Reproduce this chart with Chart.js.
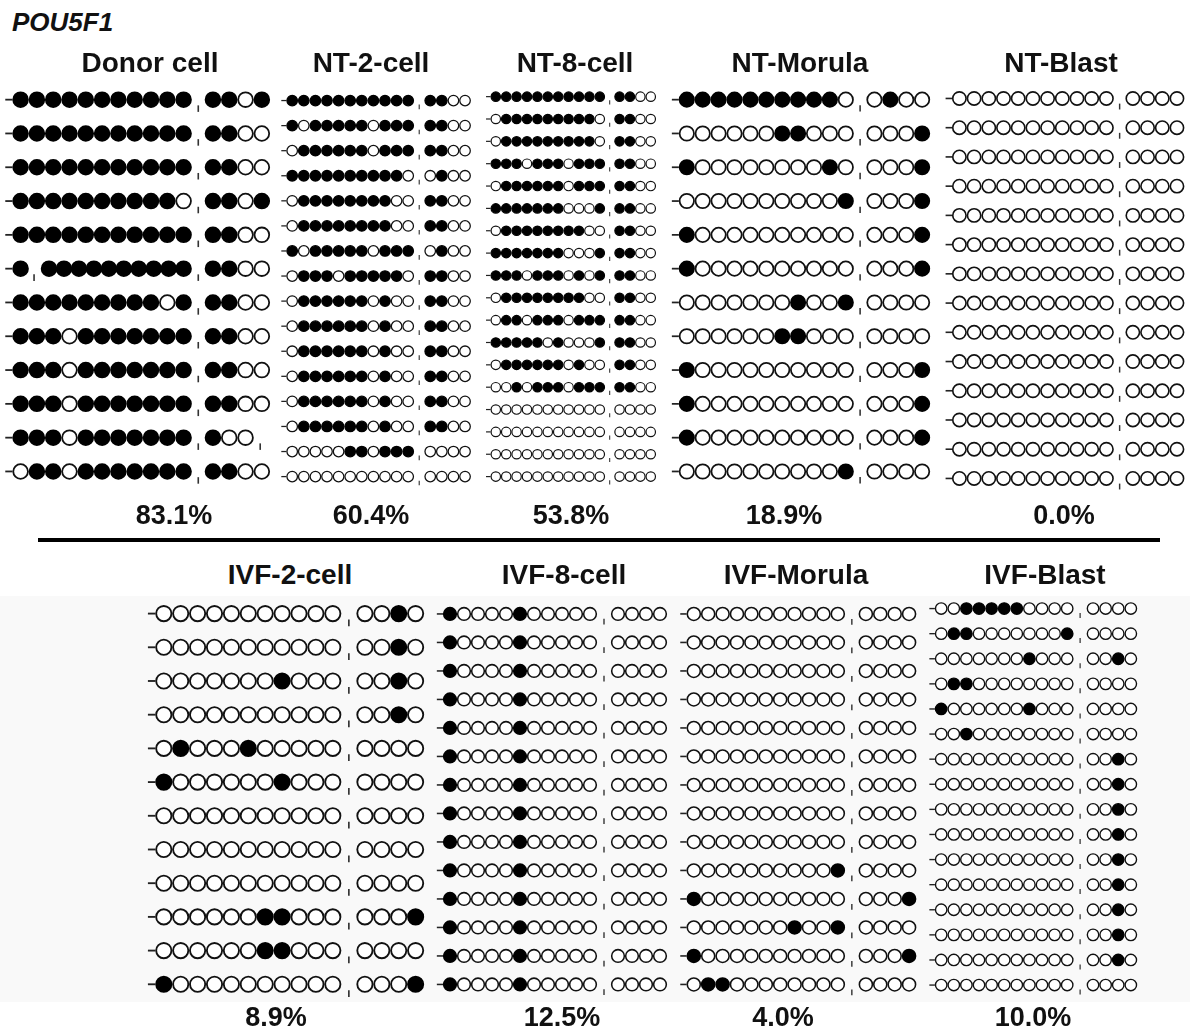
<!DOCTYPE html>
<html>
<head>
<meta charset="utf-8">
<title>POU5F1 promoter methylation</title>
<script src="https://cdn.jsdelivr.net/npm/chart.js@4.4.1/dist/chart.umd.min.js"></script>
<style>
  html, body { margin: 0; padding: 0; background: #ffffff; }
  #page { position: relative; width: 1190px; height: 1030px; overflow: hidden;
          font-family: "Liberation Sans", Arial, Helvetica, sans-serif; }
  .lbl { position: absolute; font-weight: bold; line-height: 1; color: #111;
         white-space: nowrap; transform: translate(-50%, -50%); }
  .ttl { font-size: 28px; }
  .pct { font-size: 27px; }
  #gene { position: absolute; left: 12px; top: 9px; font-weight: bold; font-style: italic;
          font-size: 26px; line-height: 1; color: #111; }
  #divider { position: absolute; left: 38px; top: 538px; width: 1122px; height: 4px; background: #000; }
  #lowerBand { position: absolute; left: 0; top: 596px; width: 1190px; height: 406px; background: #f9f9f9; }
  canvas { position: absolute; }
</style>
</head>
<body>
<div id="page">
  <div id="lowerBand"></div>
  <div id="gene">POU5F1</div>
  <div id="divider"></div>
</div>
<script>
// One string per sequenced clone.
// '1' = methylated CpG, '0' = unmethylated CpG,
// '|' = break between the 11-site and 4-site clusters, ',' = additional break mark.
const donorCell = [
  "11111111111|1101",
  "11111111111|1100",
  "11111111111|1100",
  "11111111110|1101",
  "11111111111|1100",
  "1,1111111111|1100",
  "11111111101|1100",
  "11101111111|1100",
  "11101111111|1100",
  "11101111111|1100",
  "11101111111|100,",
  "01101111111|1100"
];
const nt2Cell = [
  "11111111111|1100",
  "10111110111|1100",
  "01111110111|1100",
  "11111111110|0100",
  "01111111100|1100",
  "01111111100|1100",
  "10111110111|0100",
  "01110111110|1100",
  "01111110100|1100",
  "01111110100|1100",
  "01111110100|1100",
  "01111110100|1100",
  "01111110100|1100",
  "01111110100|1100",
  "00000110111|0000",
  "00000000000|0000"
];
const nt8Cell = [
  "11111111111|1100",
  "01111111110|1100",
  "01111111110|1100",
  "11101110111|1100",
  "01111110111|1100",
  "11111110001|1100",
  "01111111100|1100",
  "11111110001|1100",
  "11101110101|1100",
  "01111111100|1100",
  "01101110111|1100",
  "11111010001|1100",
  "01111110100|1100",
  "00101110111|1100",
  "00000000000|0000",
  "00000000000|0000",
  "00000000000|0000",
  "00000000000|0000"
];
const ntMorula = [
  "11111111110|0100",
  "00000011000|0001",
  "10000000010|0001",
  "00000000001|0001",
  "10000000000|0001",
  "10000000000|0001",
  "00000001001|0000",
  "00000011000|0000",
  "10000000000|0001",
  "10000000000|0001",
  "10000000000|0001",
  "00000000001|0000"
];
const ntBlast = [
  "00000000000|0000", "00000000000|0000", "00000000000|0000", "00000000000|0000",
  "00000000000|0000", "00000000000|0000", "00000000000|0000", "00000000000|0000",
  "00000000000|0000", "00000000000|0000", "00000000000|0000", "00000000000|0000",
  "00000000000|0000", "00000000000|0000"
];
const ivf2Cell = [
  "00000000000|0010",
  "00000000000|0010",
  "00000001000|0010",
  "00000000000|0010",
  "01000100000|0000",
  "10000001000|0000",
  "00000000000|0000",
  "00000000000|0000",
  "00000000000|0000",
  "00000011000|0001",
  "00000011000|0000",
  "10000000000|0001"
];
const ivf8Cell = [
  "10000100000|0000", "10000100000|0000", "10000100000|0000", "10000100000|0000",
  "10000100000|0000", "10000100000|0000", "10000100000|0000", "10000100000|0000",
  "10000100000|0000", "10000100000|0000", "10000100000|0000", "10000100000|0000",
  "10000100000|0000", "10000100000|0000"
];
const ivfMorula = [
  "00000000000|0000", "00000000000|0000", "00000000000|0000",
  "00000000000|0000", "00000000000|0000", "00000000000|0000",
  "00000000000|0000", "00000000000|0000", "00000000000|0000",
  "00000000001|0000",
  "10000000000|0001",
  "00000001001|0000",
  "10000000000|0001",
  "01100000000|0000"
];
const ivfBlast = [
  "00111110000|0000",
  "01100000001|0000",
  "00000001000|0010",
  "01100000000|0000",
  "10000001000|0000",
  "00100000000|0000",
  "00000000000|0010",
  "00000000000|0010",
  "00000000000|0010",
  "00000000000|0010",
  "00000000000|0010",
  "00000000000|0010",
  "00000000000|0010",
  "00000000000|0010",
  "00000000000|0010",
  "00000000000|0000"
];

const panelTitles = ["Donor cell", "NT-2-cell", "NT-8-cell", "NT-Morula", "NT-Blast",
                     "IVF-2-cell", "IVF-8-cell", "IVF-Morula", "IVF-Blast"];
const methylationLabels = ["83.1%", "60.4%", "53.8%", "18.9%", "0.0%",
                           "8.9%", "12.5%", "4.0%", "10.0%"];
const panelRows = [donorCell, nt2Cell, nt8Cell, ntMorula, ntBlast,
                   ivf2Cell, ivf8Cell, ivfMorula, ivfBlast];

// Placement of each panel: first CpG centre (c0), CpG pitch (s), first row centre (y0),
// row pitch (step), width of the cluster break in CpG units (gap), title / percentage anchors.
const layout = [
  { c0: 21,    s: 16.3, y0: 100, step: 33.8,  gap: 1.8,  tx: 150,  ty: 63,  px: 174,  py: 515 },
  { c0: 292,   s: 11.6, y0: 100, step: 25.07, gap: 1.9,  tx: 371,  ty: 63,  px: 371,  py: 515 },
  { c0: 496,   s: 10.4, y0: 97,  step: 22.35, gap: 1.9,  tx: 575,  ty: 63,  px: 571,  py: 515 },
  { c0: 687,   s: 15.9, y0: 100, step: 33.8,  gap: 1.8,  tx: 800,  ty: 63,  px: 784,  py: 515 },
  { c0: 959,   s: 14.7, y0: 98,  step: 29.23, gap: 1.8,  tx: 1061, ty: 63,  px: 1064, py: 515 },
  { c0: 163.5, s: 16.9, y0: 614, step: 33.7,  gap: 1.9,  tx: 290,  ty: 575, px: 276,  py: 1017 },
  { c0: 450,   s: 14.0, y0: 614, step: 28.5,  gap: 2.0,  tx: 564,  ty: 575, px: 562,  py: 1017 },
  { c0: 694,   s: 14.4, y0: 614, step: 28.5,  gap: 1.95, tx: 796,  ty: 575, px: 783,  py: 1017 },
  { c0: 941,   s: 12.6, y0: 609, step: 25.1,  gap: 2.05, tx: 1045, ty: 575, px: 1033, py: 1017 }
];

const page = document.getElementById('page');

function addLabel(text, x, y, cls) {
  const d = document.createElement('div');
  d.className = 'lbl ' + cls;
  d.textContent = text;
  d.style.left = x + 'px';
  d.style.top = y + 'px';
  page.appendChild(d);
}

// Lay one cluster of sites out along the x axis (CpG units).
function placeCluster(str, start) {
  const items = [];
  let cur = start, last = null;
  for (const ch of str) {
    if (ch === ',') {
      items.push({ kind: 'break', u: (last === null ? cur - 1 : last) + 0.9 });
      cur += 0.9;
    } else {
      items.push({ kind: ch === '1' ? 'm' : 'u', u: cur });
      last = cur;
      cur += 1;
    }
  }
  return { items, last };
}

function buildPoints(rows, gap, tickOff) {
  const methylated = [], unmethylated = [], starts = [], breaks = [];
  rows.forEach((row, ri) => {
    const [a, b = ''] = row.split('|');
    const A = placeCluster(a, 0);
    // squeeze the first cluster back to its usual span when it carries an extra break
    const k = A.last > 10 ? 10 / A.last : 1;
    A.items.forEach(it => { it.u *= k; });
    const B = placeCluster(b, 10 + gap);
    const all = A.items.concat([{ kind: 'break', u: 10 + gap / 2 }], B.items);
    starts.push({ x: -0.72, y: ri });
    all.forEach(it => {
      if (it.kind === 'm') methylated.push({ x: it.u, y: ri });
      else if (it.kind === 'u') unmethylated.push({ x: it.u, y: ri });
      else breaks.push({ x: it.u, y: ri + tickOff });
    });
  });
  return { methylated, unmethylated, starts, breaks };
}

panelRows.forEach((rows, p) => {
  const L = layout[p];
  const n = rows.length;
  const bw = Math.max(1.2, L.s * 0.11);
  const r = L.s / 2 - bw / 2 + 0.1;
  const xmin = -2, xmax = 10 + L.gap + 3 + 1.6;
  const ymin = -0.7, ymax = n - 1 + 0.9;
  const W = L.s * (xmax - xmin);
  const H = L.step * (ymax - ymin);
  const pts = buildPoints(rows, L.gap, 0.55 * L.s / L.step);

  const cv = document.createElement('canvas');
  cv.width = Math.ceil(W); cv.height = Math.ceil(H);
  cv.style.left = (L.c0 - L.s * (0 - xmin)).toFixed(1) + 'px';
  cv.style.top = (L.y0 - L.step * (0 - ymin)).toFixed(1) + 'px';
  cv.style.width = Math.ceil(W) + 'px'; cv.style.height = Math.ceil(H) + 'px';
  page.appendChild(cv);

  // keep the scale span matched to the whole-pixel canvas size
  const xmaxFit = xmin + Math.ceil(W) / L.s;
  const ymaxFit = ymin + Math.ceil(H) / L.step;

  new Chart(cv, {
    type: 'scatter',
    data: {
      datasets: [
        { label: 'methylated CpG', data: pts.methylated, pointStyle: 'circle', pointRadius: r,
          pointBackgroundColor: '#000', pointBorderColor: '#000', pointBorderWidth: bw, clip: false },
        { label: 'unmethylated CpG', data: pts.unmethylated, pointStyle: 'circle', pointRadius: r,
          pointBackgroundColor: '#fff', pointBorderColor: '#111', pointBorderWidth: bw, clip: false },
        { label: 'clone start', data: pts.starts, pointStyle: 'line', pointRadius: 0.22 * L.s,
          pointBorderColor: '#222', pointBorderWidth: bw, clip: false },
        { label: 'cluster break', data: pts.breaks, pointStyle: 'line', pointRotation: 90,
          pointRadius: 0.2 * L.s, pointBorderColor: '#333', pointBorderWidth: bw * 0.9, clip: false }
      ]
    },
    options: {
      responsive: false,
      animation: false,
      events: [],
      layout: { padding: 0, autoPadding: false },
      plugins: { legend: { display: false }, tooltip: { enabled: false } },
      scales: {
        x: { type: 'linear', display: false, min: xmin, max: xmaxFit },
        y: { type: 'linear', display: false, min: ymin, max: ymaxFit, reverse: true }
      }
    }
  });

  addLabel(panelTitles[p], L.tx, L.ty, 'ttl');
  addLabel(methylationLabels[p], L.px, L.py, 'pct');
});
</script>
</body>
</html>
